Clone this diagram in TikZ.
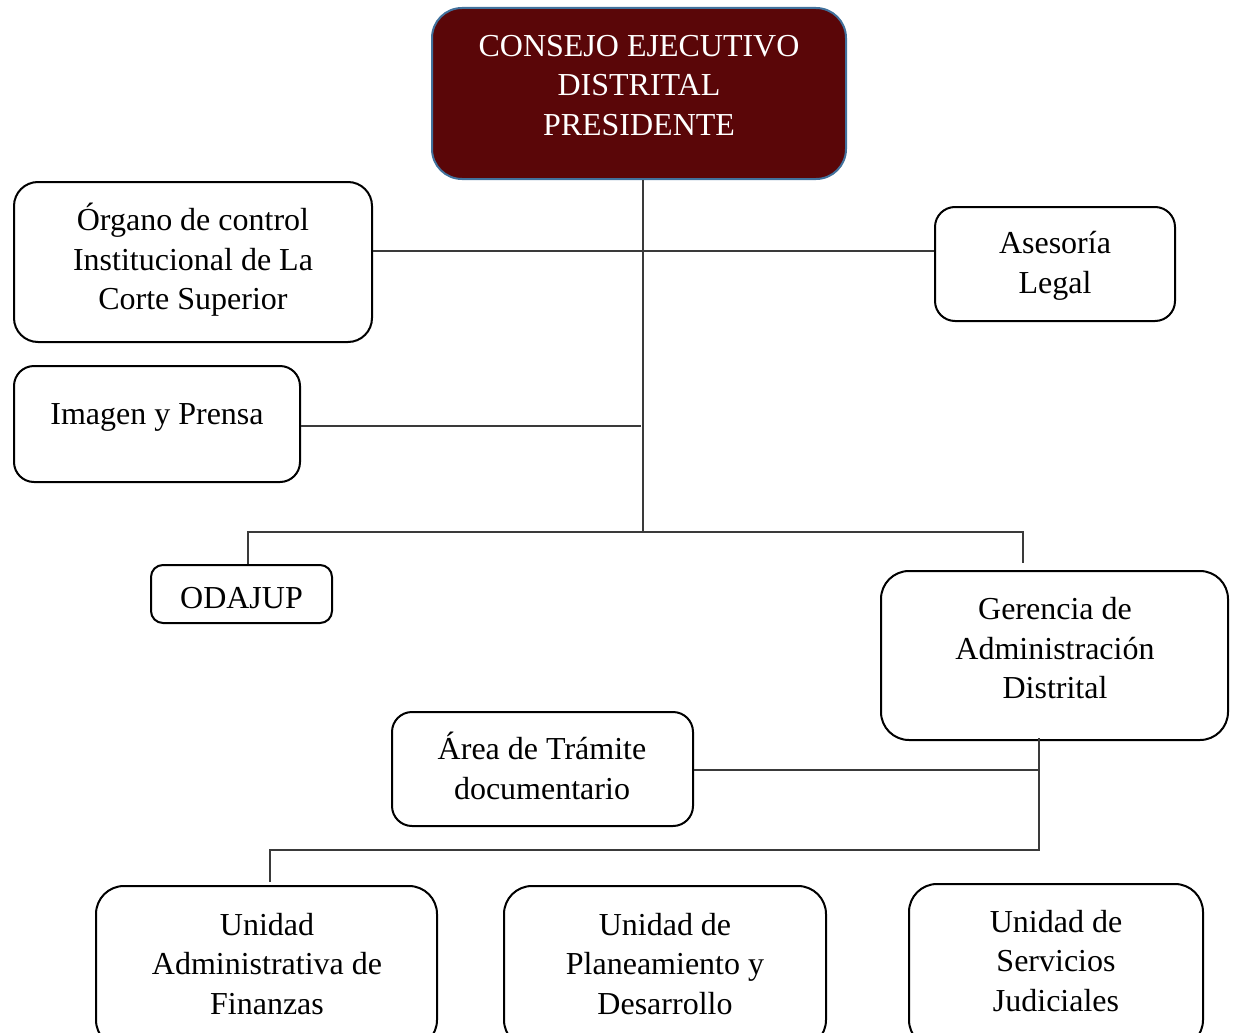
\documentclass[tikz,border=0pt]{standalone}
\usepackage{fontspec}
\setmainfont{Liberation Serif}
\definecolor{maroon}{HTML}{5A0608}
\definecolor{blueedge}{HTML}{41719C}
\definecolor{linegray}{HTML}{3A3A3A}
\begin{document}
\begin{tikzpicture}[x=1pt,y=-1pt,
  box/.style={draw=black, line width=2pt, rounded corners=24pt, inner sep=0pt},
  txt/.style={align=center, font=\fontsize{32}{39.5}\selectfont, inner sep=0pt},
  conn/.style={draw=linegray, line width=1.4pt}]
\useasboundingbox (0,0) rectangle (1234,1033);
\clip (0,0) rectangle (1234,1033);
% top box
\node[box, draw=blueedge, fill=maroon, rounded corners=30pt, minimum width=414pt, minimum height=171pt] (top) at (639,93.5) {};
\node[txt, text=white] (ttop) at (639,85.5) {CONSEJO EJECUTIVO\\DISTRITAL\\PRESIDENTE};
% left / right boxes
\node[box, minimum width=358pt, minimum height=160pt] (org) at (193,262) {};
\node[txt] (torg) at (193,260) {Órgano de control\\Institucional de La\\Corte Superior};
\node[box, rounded corners=20pt, minimum width=240pt, minimum height=114pt] (ase) at (1055,264) {};
\node[txt] (tase) at (1055,266) {Asesoría\\Legal};
\node[box, rounded corners=20pt, minimum width=286pt, minimum height=116pt] (img) at (157,424) {};
\node[txt] (timg) at (157,417) {Imagen y Prensa};
\node[box, rounded corners=12pt, minimum width=181pt, minimum height=58pt] (oda) at (241.5,594) {};
\node[txt] (toda) at (241.5,598) {ODAJUP};
\node[box, rounded corners=28pt, minimum width=347pt, minimum height=169pt] (ger) at (1054.5,655.5) {};
\node[txt] (tger) at (1055,648.5) {Gerencia de\\Administración\\Distrital};
\node[box, rounded corners=20pt, minimum width=301pt, minimum height=114pt] (area) at (542.5,769) {};
\node[txt] (tarea) at (542,766) {Área de Trámite\\documentario};
% bottom boxes (cut off by page)
\node[box, rounded corners=28pt, minimum width=341pt, minimum height=162pt] (ua) at (266.5,967) {};
\node[txt] (tua) at (267,964) {Unidad\\Administrativa de\\Finanzas};
\node[box, rounded corners=28pt, minimum width=322pt, minimum height=162pt] (up) at (665,967) {};
\node[txt] (tup) at (665,964) {Unidad de\\Planeamiento y\\Desarrollo};
\node[box, rounded corners=28pt, minimum width=294pt, minimum height=164pt] (us) at (1056,966) {};
\node[txt] (tus) at (1056,961) {Unidad de\\Servicios\\Judiciales};
% connectors
\coordinate (j1) at (643,532);
\coordinate (b1) at (248,532);
\coordinate (b2) at (1023,532);
\coordinate (b2e) at (1023,563);
\coordinate (g1) at (1039,850);
\coordinate (h1) at (270,850);
\coordinate (h1e) at (270,882);
\draw[conn] (top.south -| j1) -- (j1);
\draw[conn] ([yshift=11pt]org.east) coordinate (l1) -- (l1 -| ase.west);
\draw[conn] ([yshift=-2pt]img.east) coordinate (l2) -- (l2 -| 641,0);
\draw[conn] (b1 |- oda.north) -- (b1) -- (b2) -- (b2e);
\draw[conn] ([yshift=3pt]ger.south -| g1) -- (g1) -- (h1) -- (h1e);
\draw[conn] ([yshift=-1pt]area.east) coordinate (l3) -- (l3 -| g1);
\end{tikzpicture}
\end{document}
